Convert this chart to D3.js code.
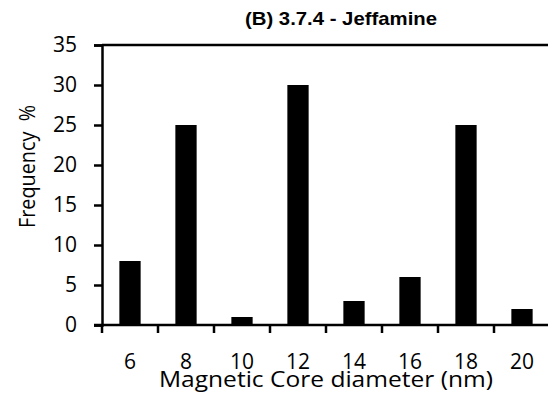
<!DOCTYPE html>
<html><head><meta charset="utf-8">
<script src="https://cdn.jsdelivr.net/npm/d3@7"></script>
<style>body{margin:0;background:#fff}svg{display:block}</style>
</head><body>
<script>
const categories = ["6","8","10","12","14","16","18","20"];
const frequency = [8, 25, 1, 30, 3, 6, 25, 2];
const yTicks = [0,5,10,15,20,25,30,35];

const W = 548, H = 399;
const m = {left:102, top:45, right:-2, bottom:74};
const svg = d3.select("body").append("svg").attr("width",W).attr("height",H);
const x = d3.scaleBand().domain(categories).range([m.left, W - m.right]).paddingInner(0.62).paddingOuter(0.31);
const y = d3.scaleLinear().domain([0,35]).range([H - m.bottom, m.top]);
const font = "'Open Sans', sans-serif";
const fs = 21;

svg.selectAll("rect.bar").data(frequency).join("rect")
  .attr("x",(d,i)=>x(categories[i])).attr("width",x.bandwidth())
  .attr("y",d=>y(d)).attr("height",d=>y(0)-y(d)).attr("fill","#000");

// top border
svg.append("line").attr("x1",m.left).attr("x2",W).attr("y1",y(35)).attr("y2",y(35))
  .attr("stroke","#000").attr("stroke-width",2.5);

const ya = svg.append("g").attr("transform",`translate(${m.left},0)`)
  .call(d3.axisLeft(y).tickValues(yTicks).tickSize(8).tickPadding(17));
ya.select(".domain").attr("stroke-width",2.5);
ya.selectAll(".tick line").attr("stroke-width",2.5);
ya.selectAll("text").attr("font-family",font).attr("font-size",fs).attr("fill","#000");

// x axis: ticks at band boundaries
const bounds = d3.range(categories.length).map(i => m.left + i*x.step());
const xa = svg.append("g");
xa.append("line").attr("x1",m.left-8).attr("x2",W).attr("y1",y(0)).attr("y2",y(0))
  .attr("stroke","#000").attr("stroke-width",2.5);
xa.selectAll("line.t").data(bounds).join("line").attr("class","t")
  .attr("x1",d=>d).attr("x2",d=>d).attr("y1",y(0)).attr("y2",y(0)+8)
  .attr("stroke","#000").attr("stroke-width",2.5);
xa.selectAll("text").data(categories).join("text")
  .attr("x",d=>x(d)+x.bandwidth()/2).attr("y",369)
  .attr("text-anchor","middle").attr("font-family",font).attr("font-size",fs).text(d=>d);

svg.append("text").attr("x",159).attr("y",387)
  .attr("font-family",font).attr("font-size",fs)
  .attr("textLength",334).attr("lengthAdjust","spacingAndGlyphs")
  .text("Magnetic Core diameter (nm)");

svg.append("text").attr("transform","translate(35,228) rotate(-90)")
  .attr("font-family",font).attr("font-size",fs).attr("xml:space","preserve")
  .attr("textLength",123).attr("lengthAdjust","spacingAndGlyphs")
  .text("Frequency  %");

svg.append("text").attr("x",245).attr("y",25)
  .attr("font-family","'Liberation Sans', Arial, sans-serif").attr("font-weight","bold")
  .attr("font-size",19).attr("textLength",192).attr("lengthAdjust","spacingAndGlyphs")
  .text("(B) 3.7.4 - Jeffamine");
</script>
</body></html>
